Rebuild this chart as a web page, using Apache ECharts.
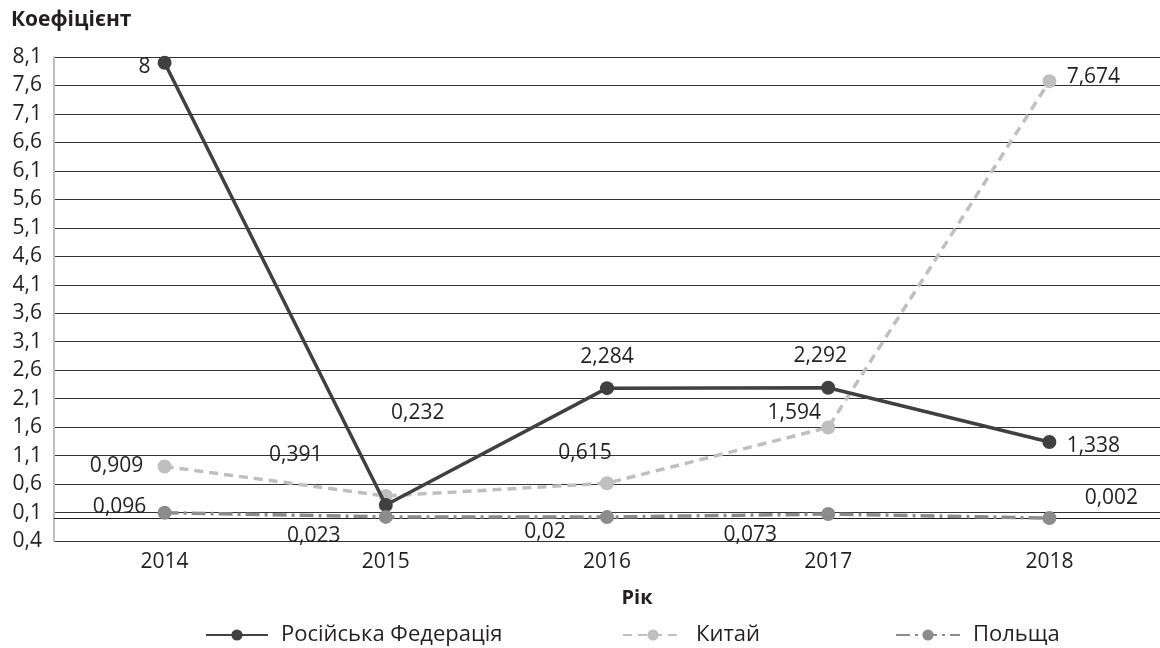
<!DOCTYPE html>
<html>
<head>
<meta charset="utf-8">
<script src="https://cdn.jsdelivr.net/npm/echarts@6/dist/echarts.min.js"></script>
<style>
  html, body { margin: 0; padding: 0; background: #fff; }
  #chart { width: 1160px; height: 648px; }
</style>
</head>
<body>
<div id="chart"></div>
<script>
  // data
  const years = ['2014', '2015', '2016', '2017', '2018'];
  const russia = [8, 0.232, 2.284, 2.292, 1.338];
  const china = [0.909, 0.391, 0.615, 1.594, 7.674];
  const poland = [0.096, 0.023, 0.02, 0.073, 0.002];
  const seriesNames = ['Російська Федерація', 'Китай', 'Польща'];
  const yMin = -0.4, yMax = 8.1, yStep = 0.5;

  // label offsets from each point (px), like the excel placement
  const russiaLabelOff = [[-20, 4], [32, -92], [0, -31], [-8, -32], [44, 4]];
  const chinaLabelOff = [[-48, 0], [-90, -41], [-22, -30], [-34, -14], [44, -4]];
  const polandLabelOff = [[-45, -6], [-72, 19], [-62, 15], [-78, 21], [62, -20]];

  const font = '"Open Sans", "Noto Sans", sans-serif';
  const txt = '#231f20';
  const fs = 21;
  const fmt = v => String(v).replace('.', ',');

  function points(vals, offs) {
    return vals.map((v, i) => ({
      value: v,
      label: { show: true, position: 'inside', offset: offs[i], formatter: p => fmt(p.value) }
    }));
  }

  const legendText = { fontSize: 22, color: txt, fontFamily: font, padding: [0, 0, 0, 8] };

  let myChart = echarts.init(document.getElementById('chart'));
  myChart.setOption({
    animation: false,
    textStyle: { fontFamily: font, color: txt },
    title: [
      { text: 'Коефіцієнт', left: 6, top: 5, textStyle: { fontFamily: font, fontSize: 21, fontWeight: 'bold', color: txt } },
      { text: 'Рік', left: 632, top: 583, textAlign: 'center', textStyle: { fontFamily: font, fontSize: 20, fontWeight: 'bold', color: txt } }
    ],
    grid: { left: 54, right: -12, top: 57, bottom: 107, containLabel: false },
    legend: [
      { data: [seriesNames[0]], left: 200, top: 619, itemWidth: 62, itemHeight: 14, textStyle: legendText },
      { data: [seriesNames[1]], left: 617, top: 619, itemWidth: 60, itemHeight: 14, textStyle: legendText },
      { data: [seriesNames[2]], left: 890, top: 619, itemWidth: 64, itemHeight: 14, textStyle: legendText }
    ],
    xAxis: {
      type: 'category',
      data: years,
      boundaryGap: true,
      axisLine: { show: false },
      axisTick: { show: false },
      axisLabel: { fontSize: fs, color: txt, margin: 11, fontFamily: font }
    },
    yAxis: {
      type: 'value',
      min: yMin,
      max: yMax,
      interval: yStep,
      axisLine: { show: true, lineStyle: { color: '#bfbfbf', width: 2 } },
      axisTick: { show: false },
      splitLine: { lineStyle: { color: '#333333', width: 1.2 } },
      axisLabel: {
        fontSize: fs, color: txt, margin: 12, fontFamily: font,
        formatter: v => Math.abs(v).toFixed(1).replace('.', ',')
      }
    },
    series: [
      {
        name: seriesNames[0],
        type: 'line',
        data: points(russia, russiaLabelOff),
        symbol: 'circle',
        symbolSize: 14,
        z: 4,
        lineStyle: { color: '#404040', width: 3.5 },
        itemStyle: { color: '#404040' },
        label: { fontSize: fs, color: txt, fontFamily: font },
        markLine: {
          silent: true,
          symbol: 'none',
          label: { show: false },
          lineStyle: { color: '#231f20', width: 1.2, type: 'solid' },
          data: [{ yAxis: 0 }]
        }
      },
      {
        name: seriesNames[1],
        type: 'line',
        data: points(china, chinaLabelOff),
        symbol: 'circle',
        symbolSize: 14,
        z: 3,
        lineStyle: { color: '#bfbfbf', width: 3.5, type: [9, 6] },
        itemStyle: { color: '#bfbfbf' },
        label: { fontSize: fs, color: txt, fontFamily: font }
      },
      {
        name: seriesNames[2],
        type: 'line',
        data: points(poland, polandLabelOff),
        symbol: 'circle',
        symbolSize: 14,
        z: 5,
        lineStyle: { color: '#8c8c8c', width: 3.5, type: [14, 5, 3, 5] },
        itemStyle: { color: '#8c8c8c' },
        label: { fontSize: fs, color: txt, fontFamily: font }
      }
    ]
  });
</script>
</body>
</html>
